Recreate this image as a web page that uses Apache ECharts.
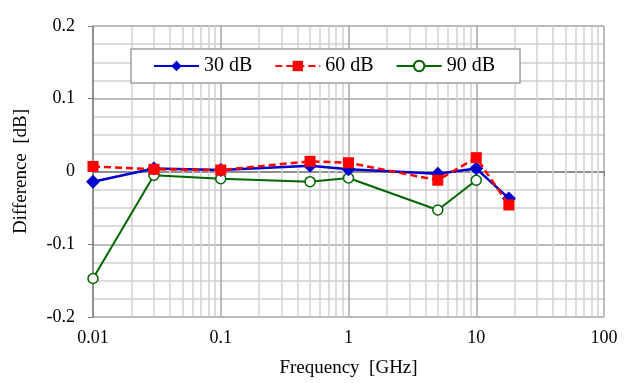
<!DOCTYPE html>
<html>
<head>
<meta charset="utf-8">
<script src="https://cdn.jsdelivr.net/npm/echarts@6/dist/echarts.min.js"></script>
<style>
html,body{margin:0;padding:0;background:#fff;}
#main{width:631px;height:383px;}
</style>
</head>
<body>
<div id="main"></div>
<script>
var freq = [0.01, 0.03, 0.1, 0.5, 1, 5, 10, 18];
var db30 = [-0.014, 0.004, 0.002, 0.008, 0.003, -0.003, 0.004, -0.037];
var db60 = [0.007, 0.003, 0.002, 0.014, 0.012, -0.012, 0.019, -0.046];
var db90 = [-0.147, -0.005, -0.010, -0.014, -0.009, -0.053, -0.012];
var minorX = [];
[0.01, 0.1, 1, 10].forEach(function(d){
    for(var k=2;k<=9;k++){ minorX.push({xAxis: +(d*k).toPrecision(3)}); }
});
var xLabels = {'0.01':'0.01','0.1':'0.1','1':'1','10':'10','100':'100'};

function pairs(ys){
    var out=[];
    for(var i=0;i<ys.length;i++){ out.push([freq[i], ys[i]]); }
    return out;
}

var font = 'Liberation Serif, Times New Roman, serif';
var myChart = echarts.init(document.getElementById('main'));
var option = {
    animation:false,
    textStyle:{fontFamily:font},
    grid:{left:93,right:27,top:26,bottom:63},
    legend:{
        z:20, zlevel:1,
        left:131, top:49,
        padding:[7,25,7,22],
        backgroundColor:'#fff',
        borderColor:'#a0a0a0', borderWidth:1.5,
        itemWidth:45, itemHeight:13, itemGap:22,
        textStyle:{fontFamily:font,fontSize:20,color:'#000'},
        data:['30 dB','60 dB','90 dB']
    },
    xAxis:{
        type:'log', logBase:10, min:0.01, max:100,
        name:'Frequency  [GHz]', nameLocation:'middle', nameGap:42,
        nameTextStyle:{fontFamily:font,fontSize:19,color:'#000'},
        axisLine:{lineStyle:{color:'#808080',width:1.5}},
        axisTick:{show:true,inside:false,length:5,lineStyle:{color:'#808080'}},
        axisLabel:{fontFamily:font,fontSize:18,color:'#000',margin:12,
            formatter:function(v){ var s=+v.toPrecision(3); return xLabels[String(s)]||String(s); }},
        splitLine:{show:true,lineStyle:{color:'#a6a6a6',width:1.5}}
    },
    yAxis:{
        type:'value', min:-0.2, max:0.2, interval:0.1,
        name:'Difference  [dB]', nameLocation:'middle', nameGap:62,
        nameTextStyle:{fontFamily:font,fontSize:19,color:'#000'},
        axisLine:{show:true,lineStyle:{color:'#808080',width:1.5}},
        axisTick:{show:true,length:5,lineStyle:{color:'#808080'}},
        axisLabel:{fontFamily:font,fontSize:18,color:'#000',margin:18,
            formatter:function(v){ return v===0?'0':String(+v.toFixed(1)); }},
        splitLine:{show:true,lineStyle:{color:'#a6a6a6',width:1.5}},
        minorTick:{show:false,splitNumber:4},
        minorSplitLine:{show:true,lineStyle:{color:'#d0d0d0',width:1.5}}
    },
    series:[
        {
            name:'grid', type:'line', data:[], silent:true, z:1,
            markLine:{silent:true,symbol:'none',label:{show:false},animation:false,z:1,
                lineStyle:{color:'#d0d0d0',width:1.5,type:'solid'},
                data:minorX}
        },
        {
            name:'30 dB', type:'line', data:pairs(db30), z:3,
            symbol:'diamond', symbolSize:14,
            itemStyle:{color:'#0000cc'},
            lineStyle:{color:'#0000cc',width:2.5}
        },
        {
            name:'60 dB', type:'line', data:pairs(db60), z:4,
            symbol:'rect', symbolSize:11,
            itemStyle:{color:'#ff0000'},
            lineStyle:{color:'#ff0000',width:2.5,type:[7,4]}
        },
        {
            name:'90 dB', type:'line', data:pairs(db90), z:2,
            symbol:'circle', symbolSize:10, showAllSymbol:true,
            itemStyle:{color:'#fff',borderColor:'#006600',borderWidth:1.5},
            lineStyle:{color:'#006600',width:2}
        }
    ]
};
myChart.setOption(option);
</script>
</body>
</html>
